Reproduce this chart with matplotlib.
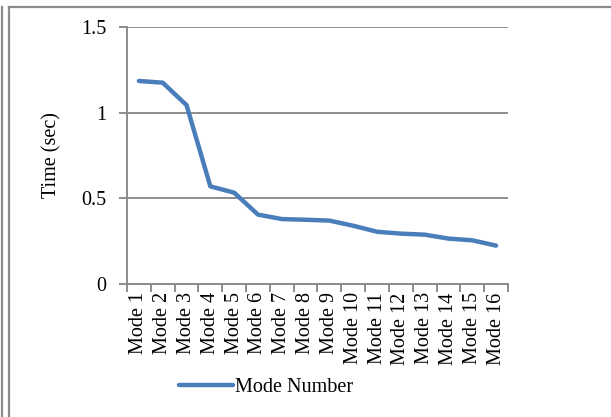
import matplotlib
matplotlib.use('Agg')
import matplotlib.pyplot as plt
from matplotlib.lines import Line2D

# dados
modos = ['Mode %d' % i for i in range(1, 17)]
tempos = [1.185, 1.175, 1.044, 0.570, 0.533, 0.405, 0.379, 0.375,
          0.370, 0.340, 0.305, 0.294, 0.288, 0.265, 0.255, 0.224]
y_ticks = [0, 0.5, 1, 1.5]
y_labels = ['0', '0.5', '1', '1.5']

plt.rcParams['font.family'] = ['Liberation Serif', 'DejaVu Serif']
FS = 14.5
GRIS = '#8c8c8c'

fig = plt.figure(figsize=(6.11, 4.17), dpi=100)
ax = fig.add_axes([127 / 611, 1 - 284 / 417, 381 / 611, 257 / 417])

x = list(range(len(modos)))
ax.plot(x, tempos, color='#4a7ebb', linewidth=3.2, solid_capstyle='round',
        solid_joinstyle='round', label='Mode Number')

ax.set_xlim(-0.5, len(modos) - 0.5)
ax.set_ylim(0, 1.5)
ax.set_yticks(y_ticks)
ax.set_yticklabels(y_labels, fontsize=FS)
ax.yaxis.grid(True, color=GRIS, linewidth=1.4)
ax.set_axisbelow(True)

# rotulos das categorias, ticks entre categorias
ax.set_xticks(x)
ax.set_xticklabels(modos, rotation=90, fontsize=FS)
ax.tick_params(axis='x', which='major', length=0, pad=6)
ax.set_xticks([i - 0.5 for i in range(len(modos) + 1)], minor=True)
ax.tick_params(axis='x', which='minor', length=6, width=1.4, color=GRIS, direction='out')
ax.tick_params(axis='y', length=6, width=1.4, color=GRIS, pad=9)

for lado in ['top', 'right']:
    ax.spines[lado].set_visible(False)
for lado in ['left', 'bottom']:
    ax.spines[lado].set_color(GRIS)
    ax.spines[lado].set_linewidth(1.4)

ax.set_ylabel('Time (sec)', fontsize=FS, labelpad=14)

fig.legend(loc='center', bbox_to_anchor=(266 / 611, 1 - 387 / 417), frameon=False,
           fontsize=FS, handlelength=2.7, handletextpad=0.1, borderpad=0)

# bordas da moldura
topo = 1 - 6.5 / 417
for xx in [1.5 / 611, 8.5 / 611]:
    fig.add_artist(Line2D([xx, xx], [0, topo], color=GRIS, linewidth=1.6))
fig.add_artist(Line2D([8.5 / 611, 1], [topo, topo], color=GRIS, linewidth=1.6))

fig.savefig('out.png', dpi=100)
plt.close(fig)
